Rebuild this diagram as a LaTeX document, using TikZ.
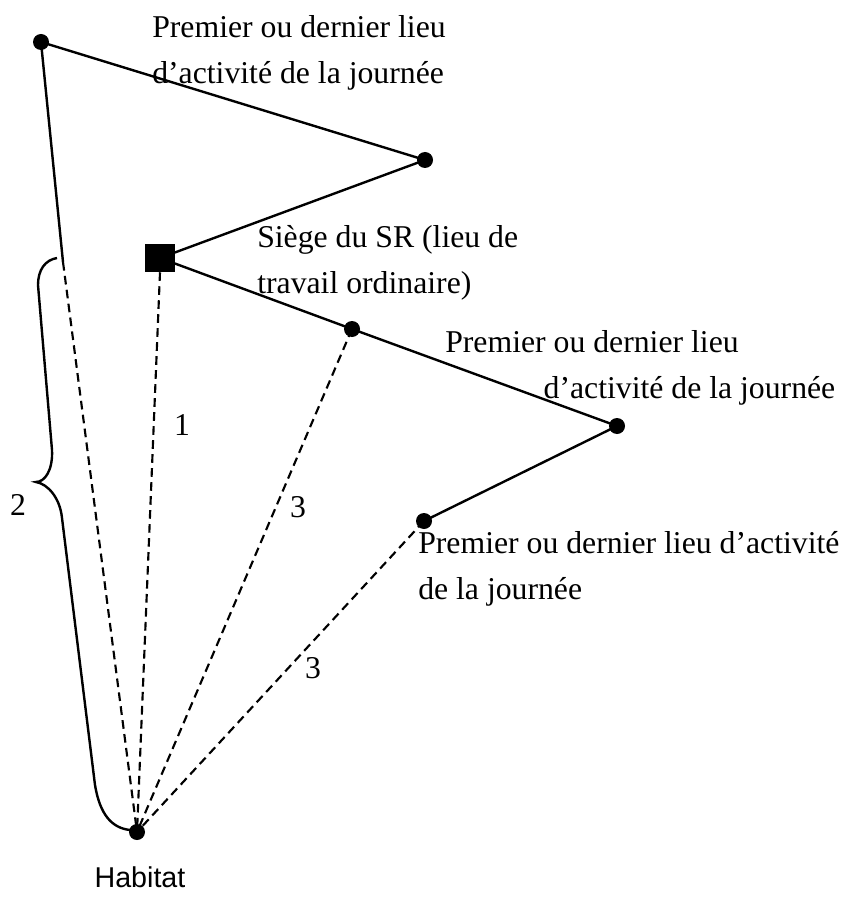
\documentclass[tikz,border=0pt]{standalone}
\usepackage{fontspec}
\setmainfont{Liberation Serif}
\newfontfamily\habitatfont{Liberation Sans}
\usepackage{tikz}

\tikzset{
  lieu/.style={circle,fill=black,inner sep=0pt,minimum size=12pt},
  siege/.style={rectangle,fill=black,inner sep=0pt,minimum width=23pt,minimum height=21pt},
  trajet/.style={line width=1.8pt},
  pointille/.style={line width=1.6pt,dash pattern={on 6.5pt off 4pt}},
  texte/.style={anchor=north west,inner sep=0pt,align=left,font=\fontsize{23.8}{34.5}\selectfont},
  chiffre/.style={inner sep=0pt,font=\fontsize{23.8}{34.5}\selectfont}
}

\begin{document}
\begin{tikzpicture}[x=0.75pt,y=0.75pt,yscale=-1,xscale=1]
    \useasboundingbox (0,0) rectangle (855,902);

    % Points
    \node [lieu] (lieuA) at (41,42) {};
    \node [lieu] (lieuB) at (425,160) {};
    \node [siege] (siege) at (160,258) {};
    \node [lieu] (lieuC) at (352,329) {};
    \node [lieu] (lieuD) at (617,426) {};
    \node [lieu] (lieuE) at (424,521) {};
    \node [lieu] (habitat) at (137,832) {};
    \coordinate (coude) at (63,262);

    %Straight Lines
    \draw [trajet] (lieuA.center) -- (lieuB.center) -- (siege.center) -- (lieuC.center) -- (lieuD.center) -- (lieuE.center);
    %Straight Lines
    \draw [trajet] (lieuA.center) -- (coude);
    %Dashed Lines
    \draw [pointille] (coude) -- (habitat.center);
    \draw [pointille] (siege.south) -- (habitat.center);
    \draw [pointille] (lieuC.center) -- (habitat.center);
    \draw [pointille] (lieuE.center) -- (habitat.center);

    %Curve Lines (accolade)
    \draw [line width=1.8pt] (57,258) .. controls (45,260) and (38,270) .. (38,285) -- (52,450) .. controls (53,470) and (45,482) .. (36,482) .. controls (48,484) and (60,498) .. (62,518) -- (95,785) .. controls (100,815) and (112,828) .. (130,830);

    % Text Node
    \node [texte] (txtA) at (152,15) {Premier ou dernier lieu\\d’activité de la journée};
    % Text Node
    \node [texte] (txtS) at (257,225) {Siège du SR (lieu de\\travail ordinaire)};
    % Text Node
    \node [texte] (txtD) at (445,330) {Premier ou dernier lieu\\\hspace*{3.1em}d’activité de la journée};
    % Text Node
    \node [texte] (txtE) at (418,531) {Premier ou dernier lieu d’activité\\de la journée};
    % Text Node
    \node [chiffre] (un) at (182,425) {1};
    \node [chiffre] (deux) at (18,505) {2};
    \node [chiffre] (troisC) at (298,507) {3};
    \node [chiffre] (troisE) at (313,668) {3};
    % Text Node
    \node [inner sep=0pt,font=\habitatfont\fontsize{21.5}{26}\selectfont] (nomHabitat) at (140,877) {Habitat};

\end{tikzpicture}
\end{document}
